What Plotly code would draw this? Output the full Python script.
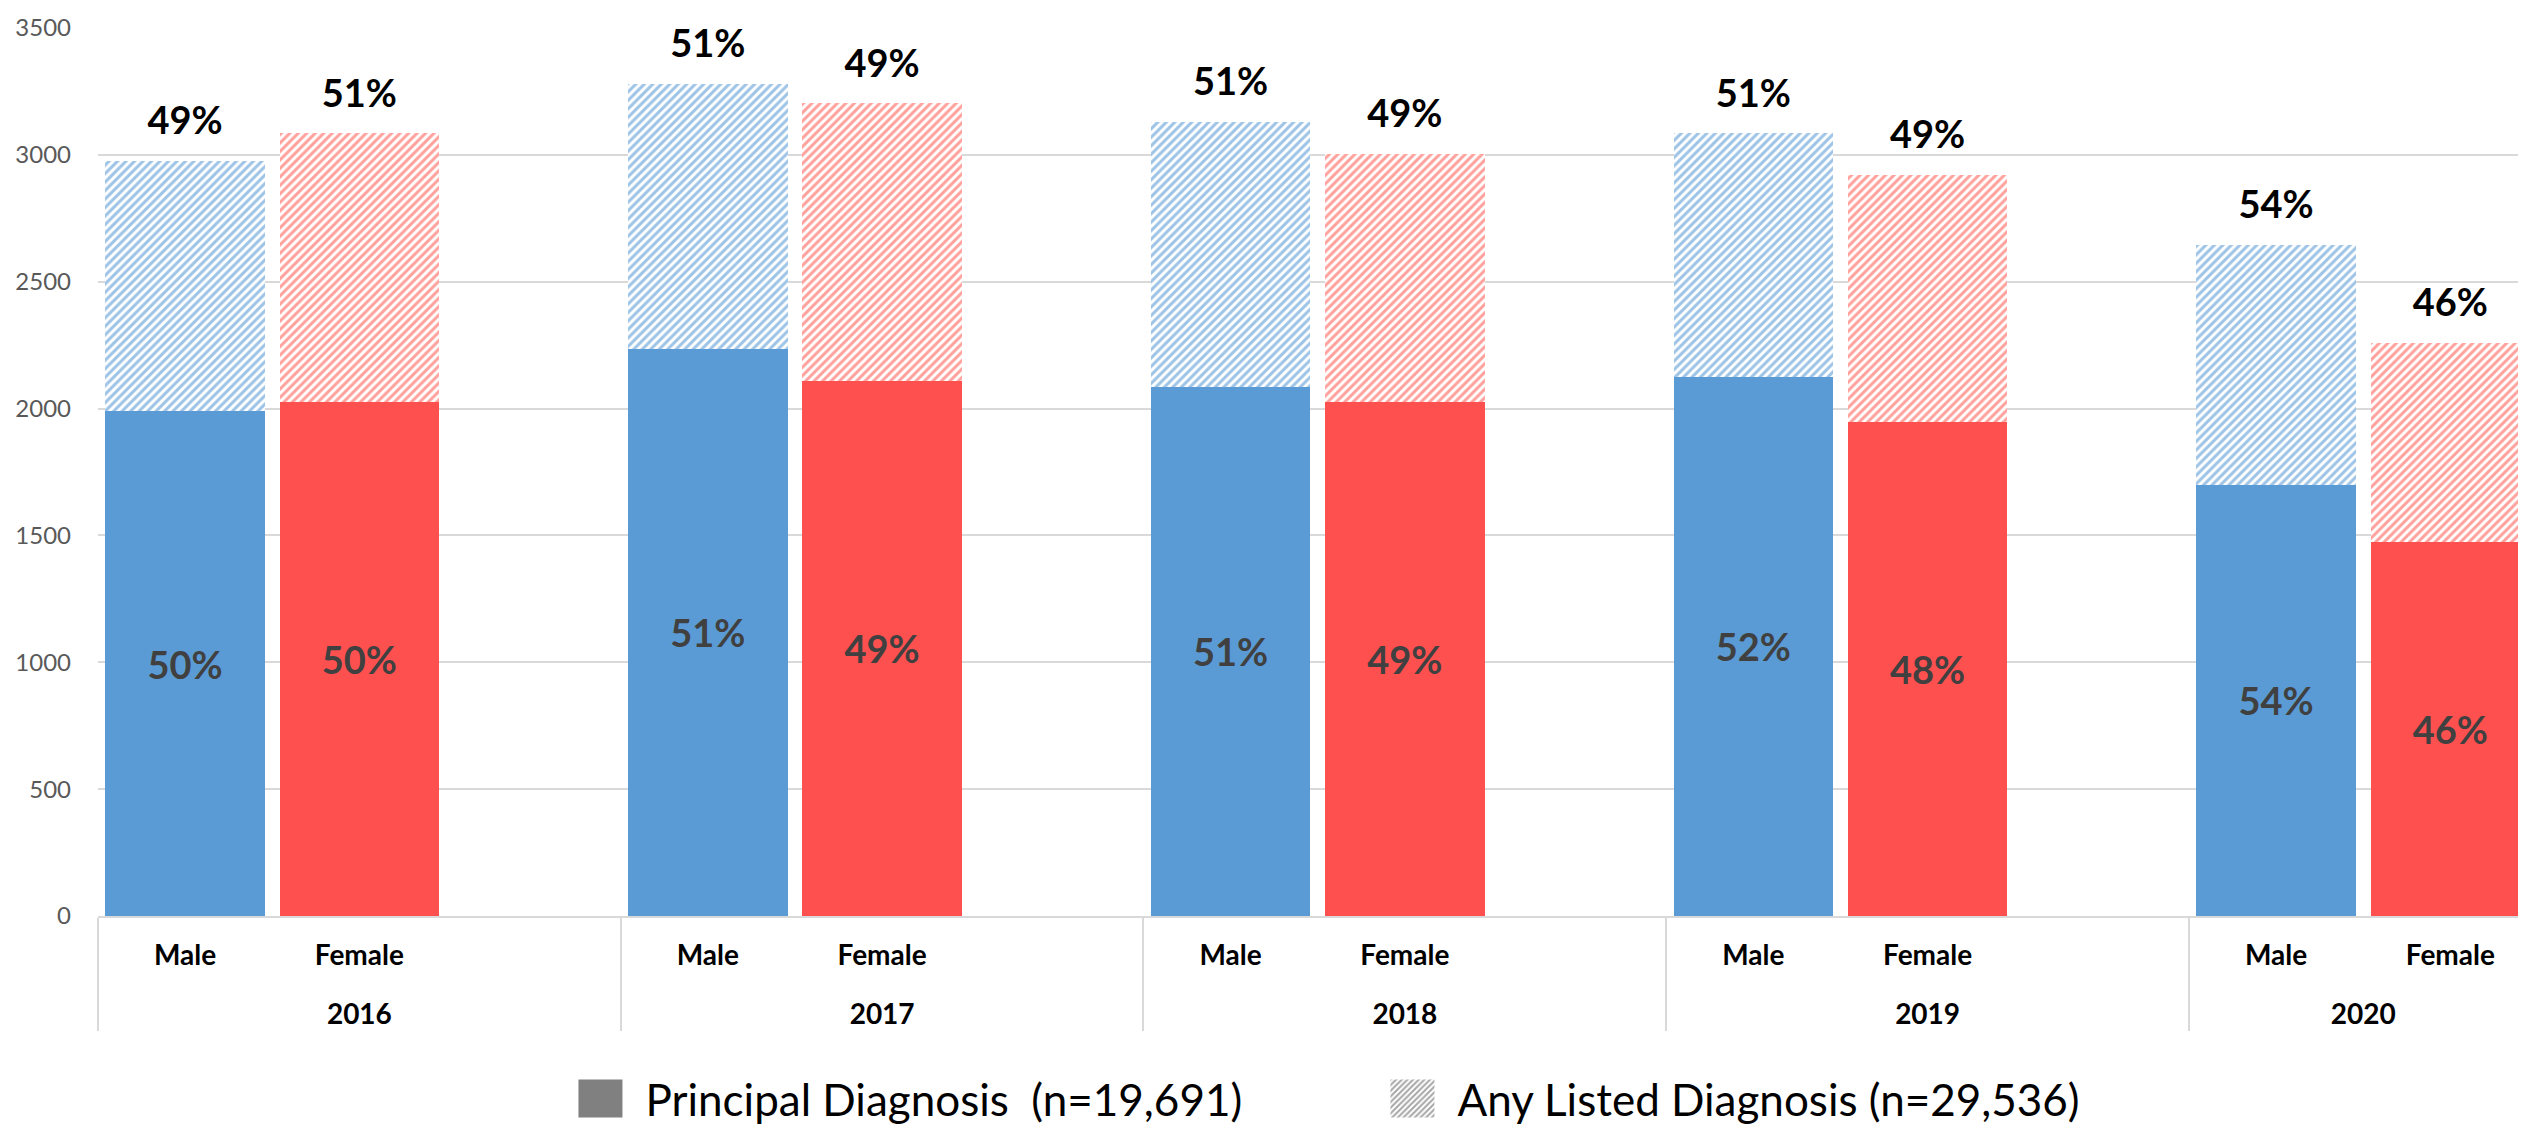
import plotly.graph_objects as go

# ---- data ----
years = ["2016", "2017", "2018", "2019", "2020"]
sexes = ["Male", "Female"]
principal_male = [1990, 2236, 2087, 2125, 1699]
principal_female = [2025, 2110, 2024, 1949, 1473]
any_male = [2975, 3281, 3129, 3085, 2646]
any_female = [3085, 3203, 3004, 2922, 2260]
principal_pct_male = ["50%", "51%", "51%", "52%", "54%"]
principal_pct_female = ["50%", "49%", "49%", "48%", "46%"]
any_pct_male = ["49%", "51%", "51%", "51%", "54%"]
any_pct_female = ["51%", "49%", "49%", "49%", "46%"]
legend_principal = "Principal Diagnosis \u00a0(n=19,691)"
legend_any = "Any Listed Diagnosis (n=29,536)"

# ---- styles ----
FONT = "Lato"
BLUE, RED = "#5B9BD5", "#FF5050"
LBLUE, LRED = "#9DC3E6", "#FFA09C"
GRID = "#D9D9D9"

# Build multicategory slots (blank spacer slot after each year but the last)
# outer (year) labels get a leading line break so they sit lower, as in the reference
outer, inner = [], []
prin, extra, tot, ptxt, ttxt, solid, light = [], [], [], [], [], [], []
for i, yr in enumerate(years):
    ylab = "<br>" + yr
    for s, pv, av, pp, ap, c, lc in (
        ("Male", principal_male[i], any_male[i], principal_pct_male[i], any_pct_male[i], BLUE, LBLUE),
        ("Female", principal_female[i], any_female[i], principal_pct_female[i], any_pct_female[i], RED, LRED),
    ):
        outer.append(ylab); inner.append(s)
        prin.append(pv); extra.append(av - pv); tot.append(av)
        ptxt.append(pp); ttxt.append(ap); solid.append(c); light.append(lc)
    if i < len(years) - 1:
        outer.append(ylab); inner.append(" ")
        prin.append(None); extra.append(None); tot.append(None)
        ptxt.append(""); ttxt.append(""); solid.append(BLUE); light.append(LBLUE)

n_slots = len(inner)

fig = go.Figure()

fig.add_trace(go.Bar(
    x=[outer, inner], y=prin, showlegend=False,
    marker=dict(color=solid, line=dict(width=0)),
    text=ptxt, textposition="inside", insidetextanchor="middle",
    textfont=dict(family=FONT, size=38, color="#404040", weight="bold"),
    hoverinfo="skip",
))
fig.add_trace(go.Bar(
    x=[outer, inner], y=extra, showlegend=False,
    marker=dict(color="white", line=dict(width=0),
                pattern=dict(shape="/", fillmode="overlay", fgcolor=light,
                             fgopacity=1, size=6, solidity=0.5)),
    hoverinfo="skip",
))
# top percentage labels
fig.add_trace(go.Scatter(
    x=[outer, inner], y=tot, mode="markers+text", text=ttxt,
    textposition="top center", showlegend=False, cliponaxis=False,
    marker=dict(size=26, color="rgba(0,0,0,0)"),
    textfont=dict(family=FONT, size=38, color="black", weight="bold"),
    hoverinfo="skip",
))
# legend proxies
fig.add_trace(go.Bar(
    x=[[outer[0]], [inner[0]]], y=[None], name=legend_principal,
    marker=dict(color="#808080", line=dict(width=0)),
))
fig.add_trace(go.Bar(
    x=[[outer[0]], [inner[0]]], y=[None], name=legend_any,
    marker=dict(color="white", line=dict(width=0),
                pattern=dict(shape="/", fillmode="overlay", fgcolor="#A6A6A6",
                             fgopacity=1, size=5, solidity=0.5)),
))

fig.update_layout(
    width=2526, height=1127,
    margin=dict(l=90, r=0, t=20, b=209),
    barmode="stack", bargap=0.085,
    plot_bgcolor="white", paper_bgcolor="white",
    font=dict(family=FONT, color="black"),
    legend=dict(orientation="h", x=0.196, xanchor="left", y=-0.206, yanchor="middle",
                traceorder="normal",
                font=dict(family=FONT, size=44, color="black"),
                entrywidth=737, itemwidth=60, bgcolor="rgba(0,0,0,0)"),
    xaxis=dict(type="multicategory", range=[-0.5, n_slots - 0.52],
               showline=True, linecolor=GRID, linewidth=2,
               showgrid=False, showdividers=True, dividercolor=GRID, dividerwidth=2,
               tickfont=dict(family=FONT, size=28, color="black", weight="bold"),
               ticks="", ticklabelstandoff=13),
    yaxis=dict(range=[0, 3500], dtick=500, showgrid=True, gridcolor=GRID, gridwidth=2,
               zeroline=False, showline=False,
               tickfont=dict(family=FONT, size=24, color="#595959"),
               ticklabelstandoff=26),
)

# enlarge the legend swatches to the reference's big squares
post = """
(function () {
  var gd = document.getElementById('{plot_id}');
  function bigSwatches() {
    var paths = gd.querySelectorAll('.legend .legendpoints path');
    paths.forEach(function (p) {
      if (p.getAttribute('d') !== 'M-32,19H12V-19H-32Z') {
        p.setAttribute('d', 'M-32,19H12V-19H-32Z');
      }
    });
    return paths.length;
  }
  var tries = 0;
  function loop() {
    bigSwatches();
    if (++tries < 40) { setTimeout(loop, 50); }
  }
  loop();
  if (gd.on) { gd.on('plotly_afterplot', bigSwatches); }
})();
"""

fig.write_html("out.html", post_script=post)
